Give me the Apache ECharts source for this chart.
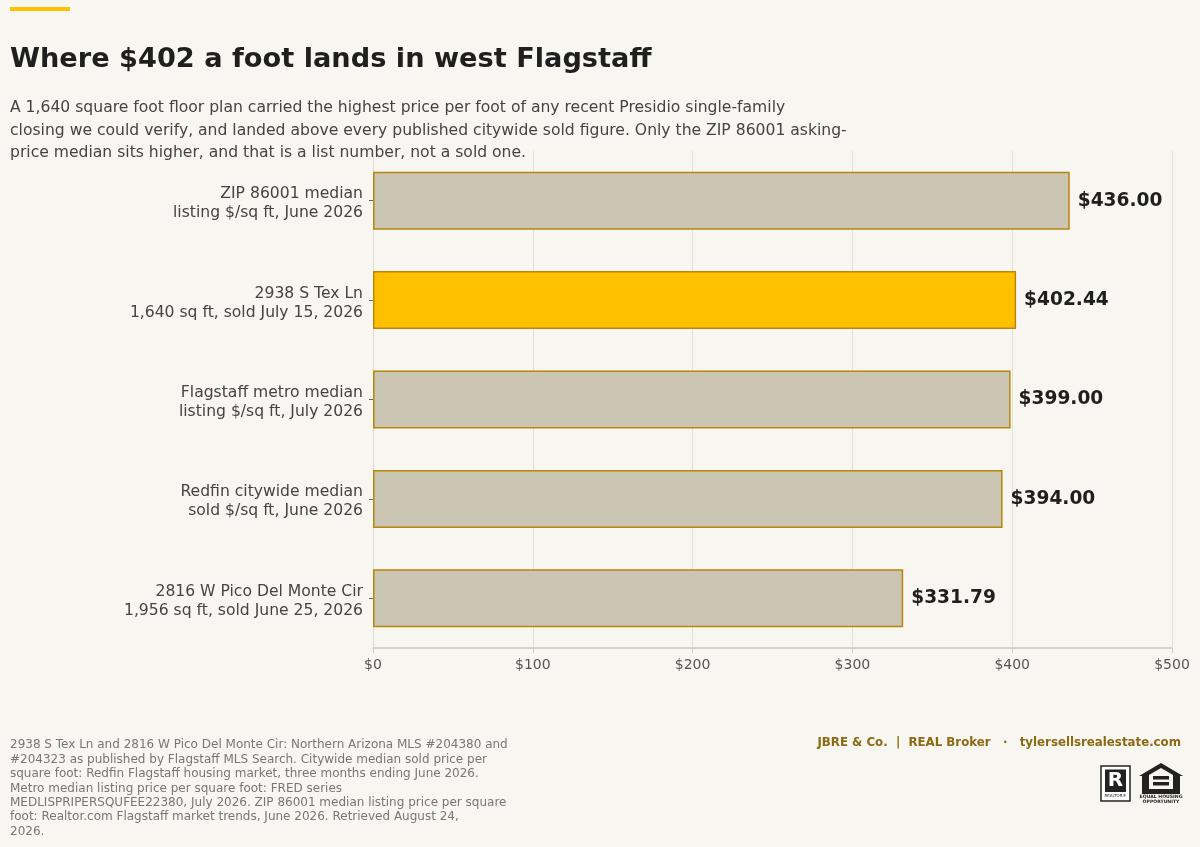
<!DOCTYPE html>
<html>
<head>
<meta charset="utf-8">
<script src="https://cdn.jsdelivr.net/npm/echarts@6/dist/echarts.min.js"></script>
<style>
  html, body { margin: 0; padding: 0; background: #f7f6f1; }
  #chart { width: 1200px; height: 847px; }
</style>
</head>
<body>
<div id="chart"></div>
<script>
// data
const categories = [
  'ZIP 86001 median\nlisting $/sq ft, June 2026',
  '2938 S Tex Ln\n1,640 sq ft, sold July 15, 2026',
  'Flagstaff metro median\nlisting $/sq ft, July 2026',
  'Redfin citywide median\nsold $/sq ft, June 2026',
  '2816 W Pico Del Monte Cir\n1,956 sq ft, sold June 25, 2026'
];
const pricePerSqFt = [436.00, 402.44, 399.00, 394.00, 331.79];
const highlightIndex = 1; // the subject property
const xTicks = [0, 100, 200, 300, 400, 500];

const titleText = 'Where $402 a foot lands in west Flagstaff';
const subtitleText = 'A 1,640 square foot floor plan carried the highest price per foot of any recent Presidio single-family\n' +
  'closing we could verify, and landed above every published citywide sold figure. Only the ZIP 86001 asking-\n' +
  'price median sits higher, and that is a list number, not a sold one.';
const sourceText = '2938 S Tex Ln and 2816 W Pico Del Monte Cir: Northern Arizona MLS #204380 and\n' +
  '#204323 as published by Flagstaff MLS Search. Citywide median sold price per\n' +
  'square foot: Redfin Flagstaff housing market, three months ending June 2026.\n' +
  'Metro median listing price per square foot: FRED series\n' +
  'MEDLISPRIPERSQUFEE22380, July 2026. ZIP 86001 median listing price per square\n' +
  'foot: Realtor.com Flagstaff market trends, June 2026. Retrieved August 24,\n' +
  '2026.';
const brandText = 'JBRE & Co.  |  REAL Broker   \u00b7   tylersellsrealestate.com';

const GOLD = '#ffc000';
const GREY = '#cbc5b4';
const EDGE = '#b8860b';
const BG = '#f7f6f1';
const FONT = '"DejaVu Sans", Verdana, sans-serif';

let chart = echarts.init(document.getElementById('chart'));

let option = {
  backgroundColor: BG,
  textStyle: { fontFamily: FONT },
  grid: { left: 373, right: 28, top: 151, bottom: 199, containLabel: false },
  xAxis: {
    type: 'value',
    min: xTicks[0],
    max: xTicks[xTicks.length - 1],
    interval: 100,
    axisLine: { show: true, lineStyle: { color: '#d6d3ca', width: 2 } },
    axisTick: { show: true, length: 5, lineStyle: { color: '#cfccc2' } },
    axisLabel: {
      color: '#555', fontSize: 14, margin: 10,
      formatter: v => '$' + v
    },
    splitLine: { show: true, lineStyle: { color: '#e2dfd6', width: 1 } }
  },
  yAxis: {
    type: 'category',
    inverse: true,
    data: categories,
    axisLine: { show: true, lineStyle: { color: '#dedbd2', width: 1 } },
    axisTick: { show: true, length: 4, alignWithLabel: true, lineStyle: { color: '#666' } },
    axisLabel: {
      color: '#444', fontSize: 15.6, lineHeight: 19, margin: 10, align: 'right',
      // a thin spacer line on top nudges the two-line label down a little
      formatter: v => '{sp| }\n' + v.split('\n').map(s => '{t|' + s + '}').join('\n'),
      rich: {
        sp: { fontSize: 1, lineHeight: 6 },
        t: { color: '#444', fontSize: 15.6, lineHeight: 19, align: 'right' }
      }
    }
  },
  series: [{
    type: 'bar',
    barWidth: 58,
    data: pricePerSqFt.map((v, i) => ({
      value: v,
      itemStyle: { color: i === highlightIndex ? GOLD : GREY }
    })),
    itemStyle: { borderColor: EDGE, borderWidth: 1.5 },
    label: {
      show: true,
      position: 'right',
      distance: 8,
      color: '#1f1f1f',
      fontSize: 18.6,
      fontWeight: 'bold',
      formatter: p => '$' + p.value.toFixed(2)
    },
    emphasis: { disabled: true }
  }],
  graphic: [
    // accent bar
    { type: 'rect', shape: { x: 10, y: 7, width: 60, height: 4 }, style: { fill: GOLD } },
    {
      type: 'text', x: 10, y: 46,
      style: { text: titleText, font: 'bold 27.2px ' + FONT, fill: '#1f1f1f', textVerticalAlign: 'top' }
    },
    {
      type: 'text', x: 10, y: 97,
      style: { text: subtitleText, font: '15.6px ' + FONT, lineHeight: 22.5, fill: '#444', textVerticalAlign: 'top' }
    },
    {
      type: 'text', x: 10, y: 738,
      style: { text: sourceText, font: '12px ' + FONT, lineHeight: 14.4, fill: '#777', textVerticalAlign: 'top' }
    },
    {
      type: 'text', x: 1181, y: 737,
      style: { text: brandText, font: 'bold 11.8px ' + FONT, fill: '#8b6a14', textAlign: 'right', textVerticalAlign: 'top' }
    },
    // REALTOR mark
    { type: 'rect', shape: { x: 1101, y: 766, width: 29, height: 35 }, style: { fill: '#fff', stroke: '#222', lineWidth: 1.5 } },
    { type: 'rect', shape: { x: 1105, y: 769.5, width: 21, height: 22.5 }, style: { fill: '#222' } },
    {
      type: 'text', x: 1115.5, y: 781,
      style: { text: 'R', font: 'bold 20px "DejaVu Sans", sans-serif', fill: '#fff', textAlign: 'center', textVerticalAlign: 'middle' }
    },
    {
      type: 'text', x: 1115.5, y: 796,
      style: { text: 'REALTOR\u00ae', font: '4px ' + FONT, fill: '#222', textAlign: 'center', textVerticalAlign: 'middle' }
    },
    // Equal Housing mark
    {
      type: 'polygon',
      shape: { points: [[1139, 776], [1161, 763], [1183, 776], [1180, 776], [1180, 794], [1142, 794], [1142, 776]] },
      style: { fill: '#222' }
    },
    {
      type: 'polygon',
      shape: { points: [[1149, 775], [1161, 768], [1173, 775], [1173, 789], [1149, 789]] },
      style: { fill: BG }
    },
    { type: 'rect', shape: { x: 1153, y: 776, width: 16, height: 3.5 }, style: { fill: '#222' } },
    { type: 'rect', shape: { x: 1153, y: 782, width: 16, height: 3.5 }, style: { fill: '#222' } },
    {
      type: 'text', x: 1161, y: 797,
      style: { text: 'EQUAL HOUSING', font: 'bold 4.6px ' + FONT, fill: '#222', textAlign: 'center', textVerticalAlign: 'middle' }
    },
    {
      type: 'text', x: 1161, y: 802,
      style: { text: 'OPPORTUNITY', font: 'bold 4.6px ' + FONT, fill: '#222', textAlign: 'center', textVerticalAlign: 'middle' }
    }
  ]
};

chart.setOption(option, true);
window.addEventListener('resize', () => {
  chart.resize();
});
</script>
</body>
</html>
